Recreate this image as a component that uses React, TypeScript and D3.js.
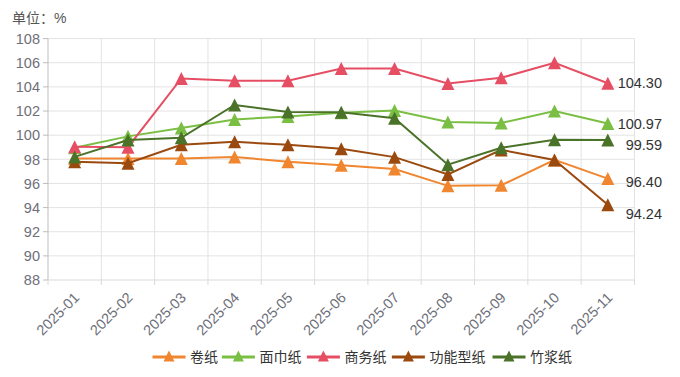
import React from "react";
import * as d3 from "d3";

const categories = ["2025-01","2025-02","2025-03","2025-04","2025-05","2025-06","2025-07","2025-08","2025-09","2025-10","2025-11"];
const seriesNames = ["卷纸","面巾纸","商务纸","功能型纸","竹浆纸"];
const juanzhi = [98.07,98.07,98.07,98.2,97.8,97.5,97.2,95.8,95.85,97.95,96.40];
const mianjinzhi = [98.95,99.9,100.6,101.3,101.55,101.85,102.05,101.1,101.0,102.0,100.97];
const shangwuzhi = [99.05,99.0,104.7,104.5,104.5,105.53,105.53,104.28,104.75,106.0,104.30];
const gongnengzhi = [97.8,97.68,99.2,99.45,99.2,98.88,98.18,96.75,98.78,97.95,94.24];
const zhujiangzhi = [98.2,99.6,99.78,102.5,101.92,101.9,101.4,97.55,98.95,99.62,99.59];
const yTicks = [88,90,92,94,96,98,100,102,104,106,108];

const seriesValues = [juanzhi, mianjinzhi, shangwuzhi, gongnengzhi, zhujiangzhi];
const colors = ["#F0862F","#7ABF44","#E64E63","#9B4A0F","#4A7229"];
const labelDy = [3, 0, 0, 9, 5];

const FONT = "'Liberation Sans', 'Noto Sans CJK SC', sans-serif";

export default function App() {
  const W = 680, H = 377;
  const left = 48, right = 634.5, top = 38.6, bottom = 280;
  const x = d3.scaleBand<string>().domain(categories).range([left, right]);
  const y = d3.scaleLinear().domain([88, 108]).range([bottom, top]);
  const cx = (c: string) => (x(c) as number) + x.bandwidth() / 2;
  const line = d3.line<number>().x((_, i) => cx(categories[i])).y(v => y(v));
  const triPath = (s: number) => {
    const h = s / 2;
    return `M0,${-h}L${h},${h}L${-h},${h}Z`;
  };
  const boundaries = categories.map(c => x(c) as number).concat([right]);

  // legend layout
  const legendStart = 152.5;
  const charW = 15.6;
  let lx = legendStart;
  const legendItems = seriesNames.map((n, i) => {
    const item = { name: n, x: lx, color: colors[i] };
    lx += 38.2 + n.length * charW;
    return item;
  });

  return (
    <svg width={W} height={H} style={{ position: "absolute", left: 0, top: 0, background: "#fff" }} fontFamily={FONT}>
      <text x={12} y={23} fontSize={14} fill="#555">单位：%</text>
      {yTicks.map(t => (
        <g key={t}>
          {t !== 88 && <line x1={left} x2={right} y1={y(t)} y2={y(t)} stroke="#E3E3E3" strokeWidth={1} />}
          <line x1={left - 5} x2={left} y1={y(t)} y2={y(t)} stroke="#BDBDBD" />
          <text x={left - 8} y={y(t)} dy="0.36em" textAnchor="end" fontSize={14.5} fill="#6E7079">{t}</text>
        </g>
      ))}
      {boundaries.map((b, i) => (
        <g key={i}>
          {i > 0 && <line x1={b} x2={b} y1={top} y2={bottom} stroke="#E3E3E3" />}
          <line x1={b} x2={b} y1={bottom} y2={bottom + 5} stroke="#DADADA" />
        </g>
      ))}
      <line x1={left} x2={left} y1={top} y2={bottom} stroke="#BDBDBD" />
      <line x1={left} x2={right} y1={bottom} y2={bottom} stroke="#DADADA" />
      {categories.map(c => (
        <text key={c} transform={`translate(${cx(c) + 2},${bottom + 15}) rotate(-45)`} textAnchor="end" dy="0.35em" fontSize={14.5} fill="#6E7079">{c}</text>
      ))}
      {seriesValues.map((vals, si) => (
        <g key={si}>
          <path d={line(vals) || ""} fill="none" stroke={colors[si]} strokeWidth={2} />
          {vals.map((v, i) => (
            <path key={i} d={triPath(13)} transform={`translate(${cx(categories[i])},${y(v)})`} fill={colors[si]} />
          ))}
        </g>
      ))}
      {seriesValues.map((vals, si) => (
        <text key={si} x={662} y={y(vals[vals.length - 1]) + labelDy[si]} dy="0.36em" textAnchor="end" fontSize={14.5} fill="#333">{vals[vals.length - 1].toFixed(2)}</text>
      ))}
      {legendItems.map((it, i) => (
        <g key={i}>
          <line x1={it.x} x2={it.x + 33} y1={357} y2={357} stroke={it.color} strokeWidth={3} />
          <path d={triPath(11)} transform={`translate(${it.x + 16.5},${356})`} fill={it.color} />
          <text x={it.x + 37.5} y={357} dy="0.36em" fontSize={14} fill="#333">{it.name}</text>
        </g>
      ))}
    </svg>
  );
}
